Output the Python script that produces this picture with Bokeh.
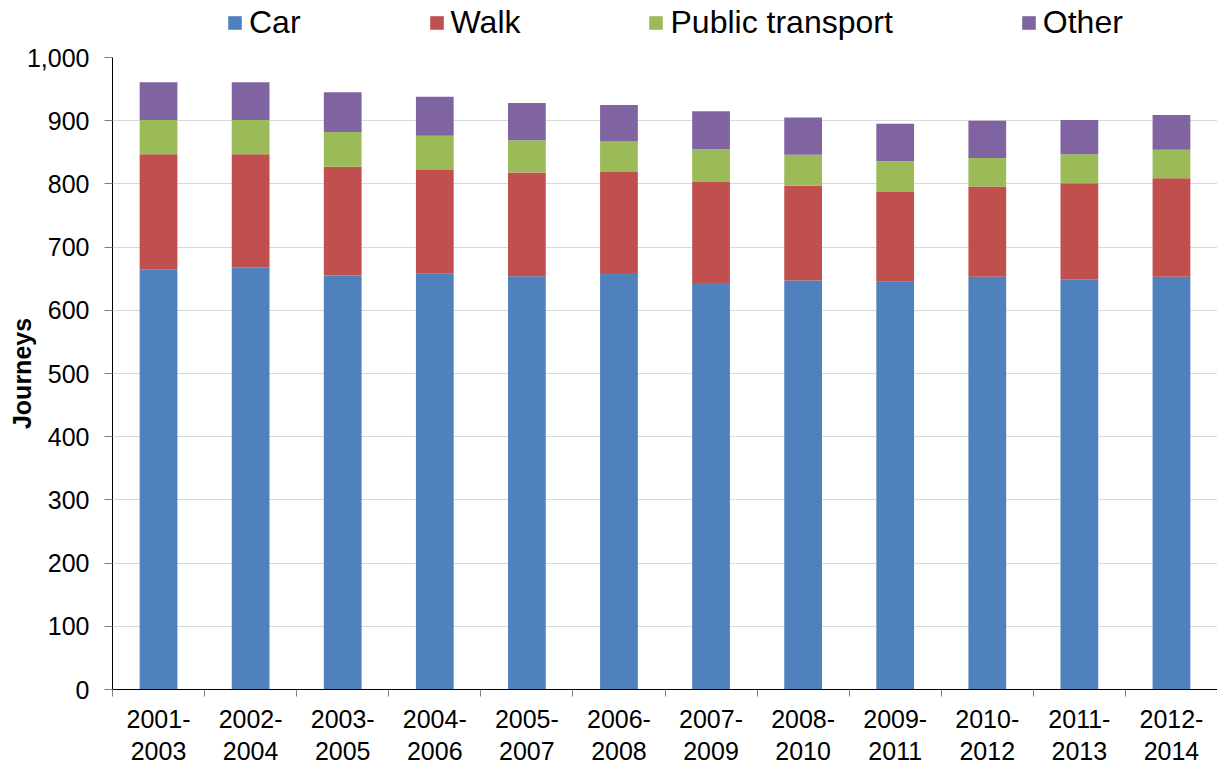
from bokeh.plotting import figure
from bokeh.layouts import column
from bokeh.models import (Range1d, FixedTicker, NumeralTickFormatter, Legend, LegendItem,
                          ColumnDataSource, LinearAxis)
from bokeh.embed import file_html
from bokeh.resources import INLINE

periods = ["2001-2003", "2002-2004", "2003-2005", "2004-2006", "2005-2007", "2006-2008",
           "2007-2009", "2008-2010", "2009-2011", "2010-2012", "2011-2013", "2012-2014"]
car = [665, 668, 655, 658, 654, 659, 643, 647, 645, 653, 649, 653]
walk = [182, 179, 172, 164, 164, 160, 160, 150, 142, 143, 152, 156]
public_transport = [54, 54, 55, 54, 51, 48, 52, 49, 49, 45, 46, 45]
other = [60, 60, 63, 62, 59, 58, 60, 59, 59, 59, 54, 55]
series = ["Car", "Walk", "Public transport", "Other"]
colors = ["#4F81BD", "#C0504D", "#9BBB59", "#8064A2"]
y_ticks = list(range(0, 1001, 100))

FONT = "Liberation Sans"
W = 1217
LEG_H = 43
xs = [i + 0.5 for i in range(len(periods))]
source = ColumnDataSource(dict(x=xs, Car=car, Walk=walk, **{"Public transport": public_transport}, Other=other))

# ---- legend strip (its own small figure so nothing is clipped) ----
lf = figure(width=W, height=LEG_H, output_backend="svg", toolbar_location=None,
            x_axis_location=None, y_axis_location=None,
            x_range=Range1d(0, 1), y_range=Range1d(0, 1),
            min_border=0, min_border_left=0, min_border_right=0, min_border_top=0, min_border_bottom=0)
lf.outline_line_color = None
lf.xgrid.visible = False
lf.ygrid.visible = False
dummy = ColumnDataSource(dict(x=[0], top=[0]))
leg_rs = [lf.vbar(x="x", top="top", width=0, source=dummy, fill_color=c, line_color=None)
          for c in colors]
legend = Legend(items=[LegendItem(label=s, renderers=[r]) for s, r in zip(series, leg_rs)],
                orientation="horizontal", location=(114, 2), spacing=127,
                glyph_width=17, glyph_height=17, label_standoff=6, padding=0, margin=0,
                border_line_color=None, background_fill_alpha=0,
                label_text_font=FONT, label_text_font_size="32px", label_text_color="black")
lf.add_layout(legend)

# ---- main chart ----
p = figure(width=W, height=763 - LEG_H, output_backend="svg", toolbar_location=None,
           x_range=Range1d(0, len(periods)), y_range=Range1d(0, 1000),
           min_border_left=112, min_border_right=0, min_border_top=14, min_border_bottom=74)
p.outline_line_color = None
p.background_fill_color = "white"

rs = p.vbar_stack(series, x="x", width=0.41, source=source, color=colors, line_color=None)

# y axis
p.yaxis.ticker = FixedTicker(ticks=y_ticks)
p.yaxis.formatter = NumeralTickFormatter(format="0,0")
p.yaxis.major_tick_out = 8
p.yaxis.major_tick_in = 0
p.yaxis.minor_tick_out = 0
p.yaxis.minor_tick_in = 0
p.yaxis.major_tick_line_color = "#808080"
p.yaxis.axis_line_color = "black"
p.yaxis.major_label_standoff = 15
p.yaxis.major_label_text_font = FONT
p.yaxis.major_label_text_font_size = "25px"
p.yaxis.major_label_text_color = "black"
p.yaxis.axis_label = "Journeys"
p.yaxis.axis_label_text_font = FONT
p.yaxis.axis_label_text_font_size = "25px"
p.yaxis.axis_label_text_font_style = "bold"
p.yaxis.axis_label_text_color = "black"
p.yaxis.axis_label_standoff = -12

# x axis: ticks at category boundaries, first label line at category centres
p.xaxis.ticker = FixedTicker(ticks=xs, minor_ticks=list(range(len(periods) + 1)))
p.xaxis.major_label_overrides = {x: lab.split("-")[0] + "-" for x, lab in zip(xs, periods)}
p.xaxis.major_tick_out = 0
p.xaxis.major_tick_in = 0
p.xaxis.minor_tick_out = 7
p.xaxis.minor_tick_in = 0
p.xaxis.minor_tick_line_color = "#808080"
p.xaxis.axis_line_color = "black"
p.xaxis.major_label_standoff = 13
p.xaxis.major_label_text_font = FONT
p.xaxis.major_label_text_font_size = "25px"
p.xaxis.major_label_text_color = "black"

# second line of the category labels
x2 = LinearAxis(ticker=FixedTicker(ticks=xs),
                major_label_overrides={x: lab.split("-")[1] for x, lab in zip(xs, periods)},
                axis_line_color=None, major_tick_line_color=None, minor_tick_line_color=None,
                major_tick_out=0, major_tick_in=0, minor_tick_out=0, minor_tick_in=0,
                major_label_standoff=11, major_label_text_font=FONT,
                major_label_text_font_size="25px", major_label_text_color="black")
p.add_layout(x2, "below")

p.xgrid.grid_line_color = None
p.ygrid.grid_line_color = "#d9d9d9"
p.ygrid.grid_line_width = 1

layout = column(lf, p, spacing=0)
open("out.html", "w").write(file_html(layout, INLINE))
